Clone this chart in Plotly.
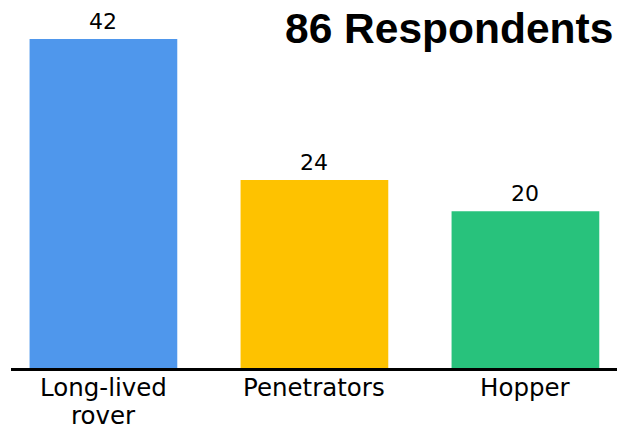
import plotly.graph_objects as go

categories = ["Long-lived rover", "Penetrators", "Hopper"]
label_lines = [["Long-lived", "rover"], ["Penetrators"], ["Hopper"]]
values = [42, 24, 20]
colors = ["#4f97ec", "#fec200", "#28c27c"]
title_text = "86 Respondents"

fig = go.Figure()
fig.add_trace(go.Bar(
    x=categories, y=values, marker=dict(color=colors, line=dict(width=0)),
    width=0.70, hoverinfo="skip"
))
for c, v in zip(categories, values):
    fig.add_annotation(x=c, y=v, text=str(v), showarrow=False, yanchor="bottom",
                       yshift=3, font=dict(family="DejaVu Sans", size=22, color="#000000"))

for c, lines in zip(categories, label_lines):
    for i, line in enumerate(lines):
        fig.add_annotation(x=c, yref="paper", y=0, text=line, showarrow=False,
                           yanchor="top", yshift=-4 - 28 * i, borderpad=0,
                           font=dict(family="DejaVu Sans", size=24.5, color="#000000"))

fig.add_annotation(xref="paper", yref="paper", x=0.9967, y=1, xanchor="right", yanchor="top",
                   yshift=-3, text="<b>" + title_text + "</b>", showarrow=False,
                   font=dict(family="Liberation Sans, Arial", size=42.5, color="#000000"))

fig.update_layout(
    width=617, height=430, margin=dict(l=11, r=0, t=0, b=62, autoexpand=False),
    paper_bgcolor="white", plot_bgcolor="white", showlegend=False,
)
fig.update_xaxes(range=[-0.438, 2.434], showline=True, linewidth=2.5, linecolor="#000000",
                 showgrid=False, zeroline=False, ticks="", showticklabels=False, automargin=False)
fig.update_yaxes(range=[0, 46.98], visible=False, showgrid=False, zeroline=False, automargin=False)

fig.write_html("out.html")
